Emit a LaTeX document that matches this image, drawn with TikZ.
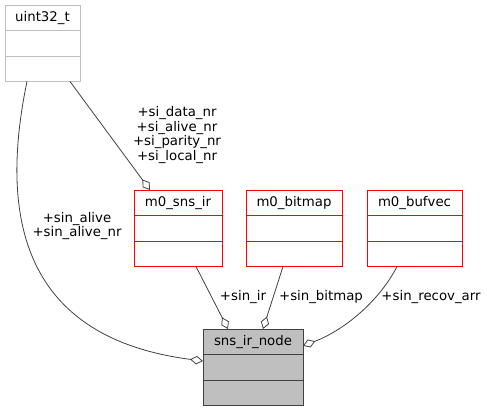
\documentclass[tikz,border=0pt]{standalone}
\usepackage{fontspec}
\setmainfont{DejaVu Sans}
\usetikzlibrary{arrows.meta,positioning,calc}
\definecolor{cedge}{HTML}{404040}
\definecolor{cred}{HTML}{FF0000}
\definecolor{cgrey}{HTML}{BFBFBF}
\tikzset{
  part/.style={draw, minimum height=25.5pt, inner sep=0pt, outer sep=0pt, line width=0.9pt, font=\fontsize{13.3}{16}\selectfont},
  plainc/.style={part, draw=cgrey},
  redc/.style={part, draw=cred},
  mainc/.style={part, draw=black!75, fill=cgrey},
  memb/.style={-{Diamond[open, length=13pt, width=8.5pt]}, draw=cedge, line width=0.8pt},
  lbl/.style={font=\fontsize{13.3}{14.5}\selectfont, align=center, inner sep=0pt},
}

\begin{document}
\begin{tikzpicture}[x=1pt, y=-1pt]
\useasboundingbox (0,0) rectangle (487,412);
% classes
\node[plainc, minimum width=75pt, anchor=north] (u1) at (42.5,5) {uint32\_t};
\node[plainc, minimum width=75pt, below=0pt of u1] (u2) {};
\node[plainc, minimum width=75pt, below=0pt of u2] (u3) {};
\node[redc, minimum width=88pt, anchor=north] (s1) at (178,190) {m0\_sns\_ir};
\node[redc, minimum width=88pt, below=0pt of s1] (s2) {};
\node[redc, minimum width=88pt, below=0pt of s2] (s3) {};
\node[redc, minimum width=96pt, anchor=north] (b1) at (294,190) {m0\_bitmap};
\node[redc, minimum width=96pt, below=0pt of b1] (b2) {};
\node[redc, minimum width=96pt, below=0pt of b2] (b3) {};
\node[redc, minimum width=95pt, anchor=north] (v1) at (414.5,190) {m0\_bufvec};
\node[redc, minimum width=95pt, below=0pt of v1] (v2) {};
\node[redc, minimum width=95pt, below=0pt of v2] (v3) {};
\node[mainc, minimum width=100pt, anchor=north] (n1) at (253,329) {sns\_ir\_node};
\node[mainc, minimum width=100pt, below=0pt of n1] (n2) {};
\node[mainc, minimum width=100pt, below=0pt of n2] (n3) {};
% members
\draw[memb] ([xshift=-15.5pt]u3.south) .. controls (-6,240) and (40,340) .. ([yshift=-6.5pt]n2.north west);
\draw[memb] ([xshift=27.5pt]u3.south) -- ([xshift=-28pt]s1.north);
\draw[memb] ([xshift=18pt]s3.south) -- ([xshift=-25pt]n1.north);
\draw[memb] ([xshift=-11pt]b3.south) -- ([xshift=10pt]n1.north);
\draw[memb] ([xshift=-17.5pt]v3.south) .. controls (380,300) and (345,330) .. ([yshift=-4pt]n1.east);
\node[lbl] (lsi) at (177,135) {+si\_data\_nr\\+si\_alive\_nr\\+si\_parity\_nr\\+si\_local\_nr};
\node[lbl] (lalive) at (77,226) {+sin\_alive\\+sin\_alive\_nr};
\node[lbl] (lir) at (243,297) {+sin\_ir};
\node[lbl] (lbit) at (321,297) {+sin\_bitmap};
\node[lbl] (lrec) at (431,297) {+sin\_recov\_arr};
\end{tikzpicture}
\end{document}
